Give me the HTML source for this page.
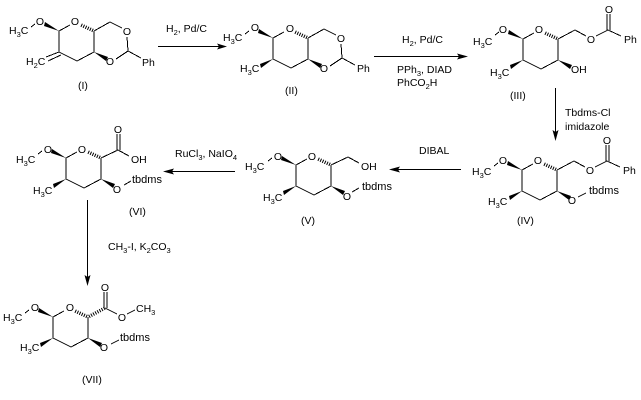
<!DOCTYPE html>
<html>
<head>
<meta charset="utf-8">
<style>
html,body{margin:0;padding:0;background:#fff;width:641px;height:400px;overflow:hidden}
svg{display:block}
text{font-family:"Liberation Sans",Arial,sans-serif;font-size:10.5px;fill:#000}
text.t{font-size:11px}
tspan.s{font-size:7.5px}
.b line,.b polyline{stroke:#000;stroke-width:1;fill:none;shape-rendering:crispEdges}
.b polygon{fill:#000;stroke:none}
.b line.h{stroke:#000;stroke-width:3.5;stroke-dasharray:1 1.4;fill:none;shape-rendering:auto}
</style>
</head>
<body>
<svg width="641" height="400" viewBox="0 0 641 400" xmlns="http://www.w3.org/2000/svg">
<defs>
<g id="ring" class="b">
  <polyline points="11,-6 0,0 0,21 18,30 35,21 35,0"/>
  <line class="h" x1="34" y1="-0.5" x2="22" y2="-6"/>
  <polygon points="0,0 -14,-9 -15,-5"/>
  <line x1="-28" y1="-4" x2="-24" y2="-7"/>
</g>
<polygon id="w1" points="0,21 -13,26 -12,30"/>
<polygon id="w2" points="35,21 49,26 47,30"/>
</defs>

<!-- I -->
<g transform="translate(59,31)">
  <use href="#ring"/>
  <use href="#w2"/>
  <g class="b">
    <line x1="0" y1="21" x2="-13" y2="26"/>
    <line x1="2" y1="24" x2="-11" y2="30"/>
    <line x1="35" y1="0" x2="51" y2="-9"/>
    <line x1="51" y1="-9" x2="63" y2="-3"/>
    <line x1="68" y1="6" x2="69" y2="20"/>
    <line x1="69" y1="20" x2="57" y2="28"/>
    <line x1="69" y1="20" x2="82" y2="27"/>
  </g>
</g>
<text x="9" y="34">H<tspan class="s" dy="3">3</tspan><tspan dy="-3">C</tspan></text>
<text x="40" y="25" text-anchor="middle">O</text>
<text x="75" y="25" text-anchor="middle">O</text>
<text x="127" y="35" text-anchor="middle">O</text>
<text x="110" y="65" text-anchor="middle">O</text>
<text x="26" y="65">H<tspan class="s" dy="3">2</tspan><tspan dy="-3">C</tspan></text>
<text x="142" y="66">Ph</text>
<text x="78" y="89">(I)</text>

<!-- II -->
<g transform="translate(273,38)">
  <use href="#ring"/>
  <use href="#w1"/>
  <use href="#w2"/>
  <g class="b">
    <line x1="35" y1="0" x2="51" y2="-9"/>
    <line x1="51" y1="-9" x2="63" y2="-3"/>
    <line x1="68" y1="6" x2="69" y2="20"/>
    <line x1="69" y1="20" x2="57" y2="28"/>
    <line x1="69" y1="20" x2="82" y2="27"/>
  </g>
</g>
<text x="223" y="41">H<tspan class="s" dy="3">3</tspan><tspan dy="-3">C</tspan></text>
<text x="255" y="31" text-anchor="middle">O</text>
<text x="290" y="32" text-anchor="middle">O</text>
<text x="341" y="42" text-anchor="middle">O</text>
<text x="324" y="72" text-anchor="middle">O</text>
<text x="240" y="72">H<tspan class="s" dy="3">3</tspan><tspan dy="-3">C</tspan></text>
<text x="357" y="72">Ph</text>
<text x="285" y="94">(II)</text>

<!-- III -->
<g transform="translate(523,39)">
  <use href="#ring"/>
  <use href="#w1"/>
  <use href="#w2"/>
  <g class="b">
    <line x1="35" y1="0" x2="52" y2="-9"/>
    <line x1="52" y1="-9" x2="63" y2="-3"/>
    <line x1="73" y1="-3" x2="85" y2="-9"/>
    <line x1="85" y1="-9" x2="98" y2="-3"/>
    <line x1="84" y1="-9" x2="84" y2="-25"/>
    <line x1="87" y1="-9" x2="87" y2="-25"/>
  </g>
</g>
<text x="473" y="45">H<tspan class="s" dy="3">3</tspan><tspan dy="-3">C</tspan></text>
<text x="503" y="33" text-anchor="middle">O</text>
<text x="539" y="33" text-anchor="middle">O</text>
<text x="591" y="43" text-anchor="middle">O</text>
<text x="609" y="13" text-anchor="middle">O</text>
<text x="624" y="43">Ph</text>
<text x="490" y="76">H<tspan class="s" dy="3">3</tspan><tspan dy="-3">C</tspan></text>
<text x="571" y="73">OH</text>
<text x="510" y="99">(III)</text>

<!-- IV -->
<g transform="translate(522,170)">
  <use href="#ring"/>
  <use href="#w1"/>
  <use href="#w2"/>
  <g class="b">
    <line x1="35" y1="0" x2="52" y2="-9"/>
    <line x1="52" y1="-9" x2="63" y2="-3"/>
    <line x1="73" y1="-3" x2="85" y2="-9"/>
    <line x1="85" y1="-9" x2="98" y2="-3"/>
    <line x1="84" y1="-9" x2="84" y2="-25"/>
    <line x1="87" y1="-9" x2="87" y2="-25"/>
    <line x1="56" y1="27" x2="64" y2="23"/>
  </g>
</g>
<text x="472" y="175">H<tspan class="s" dy="3">3</tspan><tspan dy="-3">C</tspan></text>
<text x="503" y="164" text-anchor="middle">O</text>
<text x="538" y="164" text-anchor="middle">O</text>
<text x="590" y="174" text-anchor="middle">O</text>
<text x="607" y="144" text-anchor="middle">O</text>
<text x="572" y="204" text-anchor="middle">O</text>
<text x="623" y="174">Ph</text>
<text x="488" y="205">H<tspan class="s" dy="3">3</tspan><tspan dy="-3">C</tspan></text>
<text class="t" x="589" y="194">tbdms</text>
<text x="517" y="224">(IV)</text>

<!-- V -->
<g transform="translate(296,165)">
  <use href="#ring"/>
  <use href="#w1"/>
  <use href="#w2"/>
  <g class="b">
    <line x1="35" y1="0" x2="52" y2="-8"/>
    <line x1="52" y1="-8" x2="63" y2="-2"/>
    <line x1="56" y1="27" x2="63" y2="23"/>
  </g>
</g>
<text x="245" y="170">H<tspan class="s" dy="3">3</tspan><tspan dy="-3">C</tspan></text>
<text x="278" y="160" text-anchor="middle">O</text>
<text x="312" y="160" text-anchor="middle">O</text>
<text x="347" y="200" text-anchor="middle">O</text>
<text x="361" y="170">OH</text>
<text x="263" y="201">H<tspan class="s" dy="3">3</tspan><tspan dy="-3">C</tspan></text>
<text class="t" x="362" y="190">tbdms</text>
<text x="301" y="224">(V)</text>

<!-- VI -->
<g transform="translate(66,158)">
  <use href="#ring"/>
  <use href="#w1"/>
  <use href="#w2"/>
  <g class="b">
    <line x1="35" y1="0" x2="52" y2="-8"/>
    <line x1="52" y1="-8" x2="63" y2="-2"/>
    <line x1="51" y1="-8" x2="51" y2="-24"/>
    <line x1="54" y1="-8" x2="54" y2="-24"/>
    <line x1="58" y1="27" x2="65" y2="23"/>
  </g>
</g>
<text x="16" y="163">H<tspan class="s" dy="3">3</tspan><tspan dy="-3">C</tspan></text>
<text x="48" y="153" text-anchor="middle">O</text>
<text x="82" y="153" text-anchor="middle">O</text>
<text x="118" y="133" text-anchor="middle">O</text>
<text x="117" y="193" text-anchor="middle">O</text>
<text x="131" y="163">OH</text>
<text x="33" y="194">H<tspan class="s" dy="3">3</tspan><tspan dy="-3">C</tspan></text>
<text class="t" x="132" y="183">tbdms</text>
<text x="129" y="215">(VI)</text>

<!-- VII -->
<g transform="translate(53,317)">
  <use href="#ring"/>
  <use href="#w1"/>
  <use href="#w2"/>
  <g class="b">
    <line class="h" x1="36" y1="-0.5" x2="52" y2="-9"/>
    <line x1="52" y1="-9" x2="64" y2="-3"/>
    <line x1="51" y1="-9" x2="51" y2="-25"/>
    <line x1="54" y1="-9" x2="54" y2="-25"/>
    <line x1="74" y1="-3" x2="82" y2="-7"/>
    <line x1="58" y1="27" x2="66" y2="23"/>
  </g>
</g>
<text x="3" y="321">H<tspan class="s" dy="3">3</tspan><tspan dy="-3">C</tspan></text>
<text x="35" y="311" text-anchor="middle">O</text>
<text x="70" y="311" text-anchor="middle">O</text>
<text x="105" y="291" text-anchor="middle">O</text>
<text x="122" y="321" text-anchor="middle">O</text>
<text x="104" y="351" text-anchor="middle">O</text>
<text x="136" y="312">CH<tspan class="s" dy="3">3</tspan></text>
<text x="20" y="351">H<tspan class="s" dy="3">3</tspan><tspan dy="-3">C</tspan></text>
<text class="t" x="120" y="341">tbdms</text>
<text x="82" y="383">(VII)</text>

<!-- arrows -->
<g class="b">
  <line x1="158" y1="46.5" x2="222" y2="46.5"/>
  <polygon points="227,46.5 217,43.5 219,46.5 217,49.5"/>
  <line x1="374" y1="56.5" x2="462" y2="56.5"/>
  <polygon points="468,56.5 457,53.5 459,56.5 457,59.5"/>
  <line x1="555.5" y1="88" x2="555.5" y2="135"/>
  <polygon points="555.5,141 552.5,130 555.5,132 558.5,130"/>
  <line x1="461" y1="169.5" x2="394" y2="169.5"/>
  <polygon points="389,169.5 400,166.5 398,169.5 400,172.5"/>
  <line x1="235" y1="171.5" x2="168" y2="171.5"/>
  <polygon points="163,171.5 174,168.5 172,171.5 174,174.5"/>
  <line x1="87.5" y1="200" x2="87.5" y2="280"/>
  <polygon points="87.5,286 84.5,275 87.5,277 90.5,275"/>
</g>

<!-- reagents -->
<text x="166" y="32">H<tspan class="s" dy="3">2</tspan><tspan dy="-3">, Pd/C</tspan></text>
<text x="402" y="43">H<tspan class="s" dy="3">2</tspan><tspan dy="-3">, Pd/C</tspan></text>
<text x="397" y="73">PPh<tspan class="s" dy="3">3</tspan><tspan dy="-3">, DIAD</tspan></text>
<text x="397" y="86">PhCO<tspan class="s" dy="3">2</tspan><tspan dy="-3">H</tspan></text>
<text x="565" y="116">Tbdms-Cl</text>
<text x="565" y="130">imidazole</text>
<text x="419" y="154">DIBAL</text>
<text x="175" y="157">RuCl<tspan class="s" dy="3">3</tspan><tspan dy="-3">, NaIO</tspan><tspan class="s" dy="3">4</tspan></text>
<text x="108" y="250">CH<tspan class="s" dy="3">3</tspan><tspan dy="-3">-I, K</tspan><tspan class="s" dy="3">2</tspan><tspan dy="-3">CO</tspan><tspan class="s" dy="3">3</tspan></text>
</svg>
</body>
</html>
